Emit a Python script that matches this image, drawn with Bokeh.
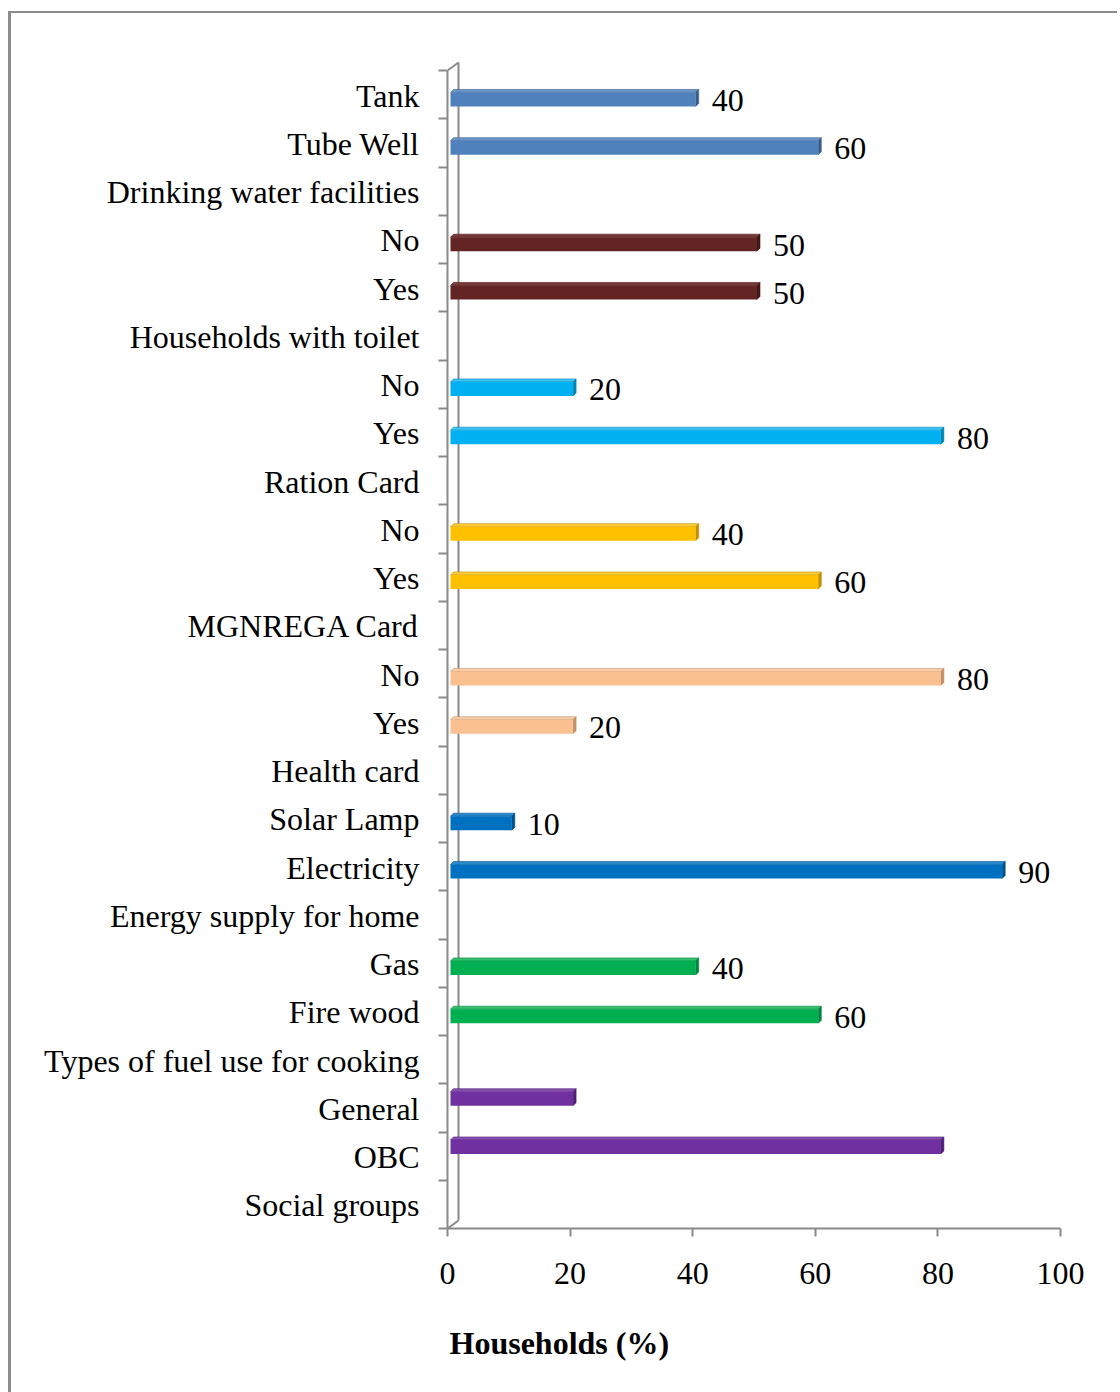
from bokeh.plotting import figure
from bokeh.models import ColumnDataSource, Range1d, FixedTicker, Title
from bokeh.core.properties import value
from bokeh.embed import file_html
from bokeh.resources import INLINE

# ---- data: each group lists its items top-to-bottom, the group title sits below them
group_names = ["Drinking water facilities", "Households with toilet", "Ration Card",
               "MGNREGA Card", "Health card", "Energy supply for home",
               "Types of fuel use for cooking", "Social groups"]
group_items = [["Tank", "Tube Well"], ["No", "Yes"], ["No", "Yes"], ["No", "Yes"],
               ["No", "Yes"], ["Solar Lamp", "Electricity"], ["Gas", "Fire wood"],
               ["General", "OBC"]]
group_values = [[40, 60], [50, 50], [20, 80], [40, 60], [80, 20], [10, 90],
                [40, 60], [20, 80]]
group_show_labels = [True, True, True, True, True, True, True, False]
x_ticks = [0, 20, 40, 60, 80, 100]

# face / top / side colours per group
face_colors = ["#4F81BD", "#632523", "#00B0F0", "#FFC000", "#FAC090", "#0070C0", "#00B050", "#7030A0"]
top_colors = ["#6A95C9", "#7B3A38", "#3EC4F4", "#FFCD3A", "#FBCDA6", "#2A88CC", "#33C070", "#8650B0"]
side_colors = ["#385D8A", "#431816", "#0084B4", "#BF9000", "#C0906A", "#00508C", "#00843C", "#502078"]
# vertical nudge of each group's bars, in pixels (the last group sits a little higher)
group_nudge_px = [0, 0, 0, 0, 0, 0, 0, 14]

FONT = "Liberation Serif"
FS = "32px"
GREY = "#898989"

# ---- build rows (top to bottom)
row_labels = []
bars = dict(y=[], v=[], face=[], top=[], side=[], show=[], nudge=[])
for g, name in enumerate(group_names):
    for item, val in zip(group_items[g], group_values[g]):
        r = len(row_labels)
        row_labels.append(item)
        bars["y"].append(r)
        bars["v"].append(val)
        bars["face"].append(face_colors[g])
        bars["top"].append(top_colors[g])
        bars["side"].append(side_colors[g])
        bars["show"].append(group_show_labels[g])
        bars["nudge"].append(group_nudge_px[g])
    row_labels.append(name)

n_rows = len(row_labels)
px_x = 6.13     # pixels per percent
px_y = 48.25    # pixels per row

label_shift = 0.02
centers = [n_rows - r - 0.5 - label_shift for r in range(n_rows)]
overrides = {c: lab for c, lab in zip(centers, row_labels)}

frame_w = 653
frame_h = 1188
x_end = frame_w / px_x
y_end = frame_h / px_y

p = figure(width=1109, height=1384, output_backend="svg", toolbar_location=None,
           x_range=Range1d(0, x_end), y_range=Range1d(0, y_end),
           min_border_left=436, min_border_right=20, min_border_top=27, min_border_bottom=169,
           background_fill_color="white", border_fill_color="white")
p.outline_line_color = None
p.grid.visible = False
p.styles = {"margin-left": "8px", "margin-top": "11px",
            "border-left": "3px solid #8c8c8c", "border-top": "2px solid #8c8c8c"}

# bars sit slightly in front of the back wall
shift = 3 / px_x
p.extra_x_ranges = {"bars": Range1d(-shift, x_end - shift)}

# ---- 3D back wall
dx = 11 / px_x
dy = 8 / px_y
p.segment(x0=[0, 0, dx], y0=[0, n_rows, dy], x1=[dx, dx, dx], y1=[dy, n_rows + dy, n_rows + dy],
          line_color=GREY, line_width=2)

# ---- bars
h = 14 / px_y
depth_x = 3 / px_x
depth_y = 3 / px_y
ys = [n_rows - r - 0.5 - 0.1 + nd / px_y for r, nd in zip(bars["y"], bars["nudge"])]
bottoms = [y - h / 2 for y in ys]
tops = [y + h / 2 for y in ys]

top_xs, top_ys, side_xs, side_ys = [], [], [], []
for v, b, t in zip(bars["v"], bottoms, tops):
    top_xs.append([0, v, v + depth_x, depth_x])
    top_ys.append([t, t, t + depth_y, t + depth_y])
    side_xs.append([v, v, v + depth_x, v + depth_x])
    side_ys.append([b, t, t + depth_y, b + depth_y])

src = ColumnDataSource(dict(y=ys, v=bars["v"], face=bars["face"], zero=[0] * len(ys)))
p.patches(top_xs, top_ys, fill_color=bars["top"], line_color=bars["side"], line_width=0.6,
          x_range_name="bars")
p.patches(side_xs, side_ys, fill_color=bars["side"], line_color=bars["side"], line_width=0.6,
          x_range_name="bars")
p.hbar(y="y", left="zero", right="v", height=h, fill_color="face", line_color=None,
       source=src, x_range_name="bars")

# value labels
lab = dict(x=[], y=[], t=[])
for v, y, s in zip(bars["v"], ys, bars["show"]):
    if s:
        lab["x"].append(v)
        lab["y"].append(y)
        lab["t"].append(str(v))
p.text(x="x", y="y", text="t", source=ColumnDataSource(lab), x_range_name="bars",
       x_offset=16, y_offset=1, text_font=value(FONT), text_font_size=FS,
       text_baseline="middle", text_align="left", text_color="black")

# ---- axes
ya = p.yaxis[0]
ya.ticker = FixedTicker(ticks=centers, minor_ticks=list(range(n_rows + 1)))
ya.major_label_overrides = overrides
ya.bounds = (0, n_rows)
ya.major_tick_out = 0
ya.major_tick_in = 0
ya.minor_tick_out = 9
ya.minor_tick_in = 0
ya.minor_tick_line_color = GREY
ya.minor_tick_line_width = 2
ya.axis_line_color = GREY
ya.axis_line_width = 2
ya.major_label_standoff = 19
ya.major_label_text_font = FONT
ya.major_label_text_font_size = FS
ya.major_label_text_color = "black"

xa = p.xaxis[0]
xa.ticker = FixedTicker(ticks=x_ticks)
xa.bounds = (0, 100)
xa.major_tick_out = 8
xa.major_tick_in = 0
xa.minor_tick_out = 0
xa.minor_tick_in = 0
xa.major_tick_line_color = GREY
xa.major_tick_line_width = 2
xa.axis_line_color = GREY
xa.axis_line_width = 2
xa.major_label_standoff = 26
xa.major_label_text_font = FONT
xa.major_label_text_font_size = FS
xa.major_label_text_color = "black"

p.add_layout(Title(text="Households (%)", align="left", offset=2, standoff=73,
                   text_font=FONT, text_font_size=FS, text_font_style="bold",
                   text_color="black"), "below")

open("out.html", "w").write(file_html(p, INLINE))
